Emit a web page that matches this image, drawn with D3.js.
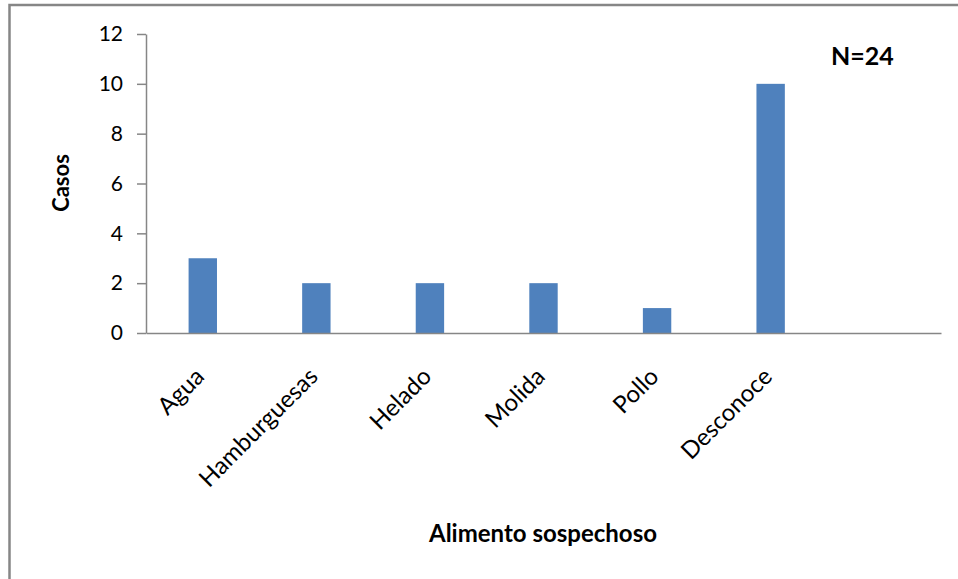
<!DOCTYPE html>
<html>
<head>
<meta charset="utf-8">
<script src="https://cdn.jsdelivr.net/npm/d3@7"></script>
<style>
  html, body { margin: 0; padding: 0; background: #fff; }
  svg { display: block; font-family: Lato, "Open Sans", sans-serif; }
</style>
</head>
<body>
<svg id="chart" width="958" height="579"></svg>
<script>
// Suspected food source of cases
const categories = ["Agua", "Hamburguesas", "Helado", "Molida", "Pollo", "Desconoce", ""];
const casos = [3, 2, 2, 2, 1, 10, null];
const yTicks = [0, 2, 4, 6, 8, 10, 12];
const yTitle = "Casos";
const xTitle = "Alimento sospechoso";
const note = "N=24";

const svg = d3.select("#chart");
const axisColor = "#868686";
const barColor = "#4F81BD";

// outer frame (left and top edges visible)
svg.append("rect")
  .attr("x", 9.5).attr("y", 5)
  .attr("width", 1000).attr("height", 600)
  .attr("fill", "none")
  .attr("stroke", axisColor)
  .attr("stroke-width", 2.5);

const plot = { left: 146, right: 941, top: 34, bottom: 333 };

const x = d3.scaleBand()
  .domain(categories.map((c, i) => i))
  .range([plot.left, plot.right])
  .paddingInner(0.75)
  .paddingOuter(0.375);

const y = d3.scaleLinear()
  .domain([0, 12])
  .range([plot.bottom, plot.top]);

// bars
svg.append("g")
  .selectAll("rect")
  .data(casos.map((v, i) => ({ i, v })).filter(d => d.v != null))
  .join("rect")
  .attr("x", d => x(d.i))
  .attr("width", x.bandwidth())
  .attr("y", d => y(d.v))
  .attr("height", d => y(0) - y(d.v))
  .attr("fill", barColor);

// y axis
const yAxis = svg.append("g")
  .attr("transform", `translate(${plot.left},0)`)
  .call(d3.axisLeft(y).tickValues(yTicks).tickSize(9).tickSizeOuter(0).tickPadding(14));
yAxis.select(".domain").attr("stroke", axisColor).attr("stroke-width", 1.5);
yAxis.selectAll(".tick line").attr("stroke", axisColor).attr("stroke-width", 1.5);
yAxis.selectAll(".tick text")
  .attr("font-size", 21)
  .attr("font-family", "Lato, sans-serif")
  .attr("fill", "#000");

// x axis line
const xAxis = svg.append("g")
  .attr("transform", `translate(0,${plot.bottom})`)
  .call(d3.axisBottom(x).tickSize(0).tickSizeOuter(0).tickFormat(() => ""));
xAxis.select(".domain").attr("stroke", axisColor).attr("stroke-width", 1.5);
xAxis.selectAll(".tick text").remove();

// rotated category labels
svg.append("g")
  .selectAll("text")
  .data(categories.map((c, i) => ({ c, i })))
  .join("text")
  .attr("transform", d => `translate(${x(d.i) + x.bandwidth() / 2 + 3},${plot.bottom + 45}) rotate(-45)`)
  .attr("text-anchor", "end")
  .attr("font-size", 24)
  .attr("fill", "#000")
  .text(d => d.c);

// axis titles
svg.append("text")
  .attr("transform", `translate(69,183) rotate(-90)`)
  .attr("text-anchor", "middle")
  .attr("font-size", 22)
  .attr("font-weight", "bold")
  .text(yTitle);

svg.append("text")
  .attr("x", 543).attr("y", 542)
  .attr("text-anchor", "middle")
  .attr("font-size", 24)
  .attr("font-weight", "bold")
  .text(xTitle);

// sample size note
svg.append("text")
  .attr("x", 831).attr("y", 65)
  .attr("font-size", 25)
  .attr("font-weight", "bold")
  .text(note);
</script>
</body>
</html>
